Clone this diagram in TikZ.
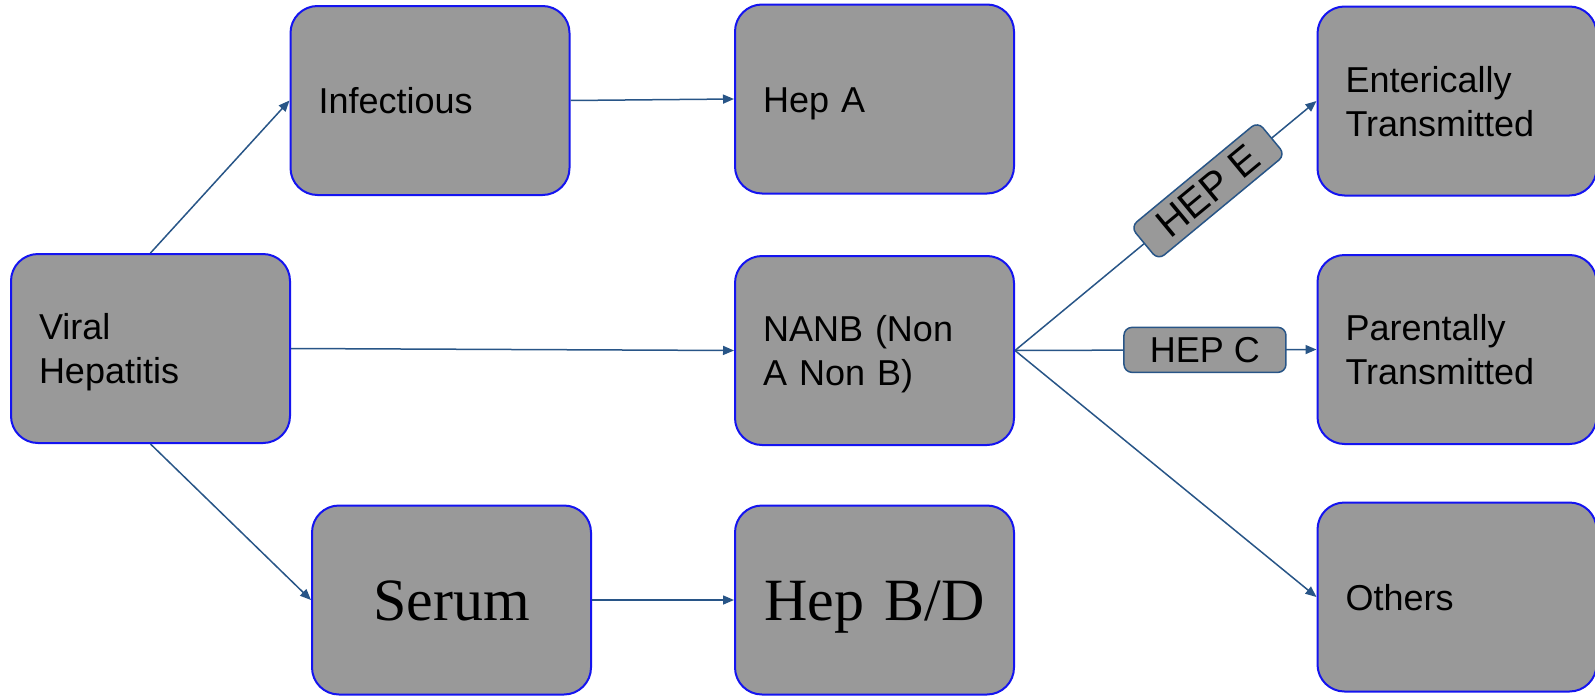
\documentclass[tikz,border=0pt]{standalone}
\usepackage{fontspec}
\setmainfont{Liberation Sans}
\newfontfamily\serumfont{Liberation Serif}
\usetikzlibrary{arrows.meta}
\definecolor{boxfill}{RGB}{153,153,153}
\definecolor{boxline}{RGB}{20,20,240}
\definecolor{arrowc}{RGB}{40,85,135}
\begin{document}
\begin{tikzpicture}[x=1pt,y=-1pt,
  box/.style={draw=boxline, line width=2pt, fill=boxfill, rounded corners=27pt,
    minimum width=279pt, minimum height=189pt, text width=223pt, inner xsep=28pt,
    inner ysep=0pt, align=left, font=\fontsize{36}{44}\selectfont,
    text height=26pt, text depth=0pt},
  twoline/.style={text depth=44pt},
  bigbox/.style={box, align=center, font=\serumfont\fontsize{60}{70}\selectfont,
    text height=40pt, text depth=0pt},
  conn/.style={draw=arrowc, line width=1.5pt, -{Triangle[length=11pt,width=9pt]}},
  lab/.style={draw=arrowc, line width=1.5pt, fill=boxfill, rounded corners=8pt,
    font=\fontsize{36}{44}\selectfont, minimum width=162pt, minimum height=45pt, inner sep=0pt}
]
\useasboundingbox[fill=white] (0,0) rectangle (1595,696);
\node[box, twoline] (viral)  at (150.5,348.5) {Viral\\Hepatitis};
\node[box] (infect) at (430,100.5) {Infectious};
\node[box] (hepa)   at (874.5,99) {Hep A};
\node[box, twoline] (nanb)   at (874.5,350.5) {NANB (Non\\A Non B)};
\node[bigbox] (serum) at (451.5,600) {Serum};
\node[bigbox] (hepbd) at (874.5,600) {Hep B/D};
\node[box, twoline] (enter)  at (1457,101) {Enterically\\Transmitted};
\node[box, twoline] (parent) at (1457,349.5) {Parentally\\Transmitted};
\node[box] (others) at (1457,597) {Others};
\draw[conn] (viral.north) -- (infect.west);
\draw[conn] (viral.south) -- (serum.west);
\draw[conn] (viral.east) -- (nanb.west);
\draw[conn] (infect.east) -- (hepa.west);
\draw[conn] (serum.east) -- (hepbd.west);
\draw[conn] (nanb.east) -- node[lab, sloped, pos=0.64, font=\fontsize{40}{48}\selectfont, minimum width=165pt, minimum height=43pt] (hepe) {HEP E} (enter.west);
\draw[conn] (nanb.east) -- node[lab, pos=0.63] (hepc) {HEP C} (parent.west);
\draw[conn] (nanb.east) -- (others.west);
\end{tikzpicture}
\end{document}
